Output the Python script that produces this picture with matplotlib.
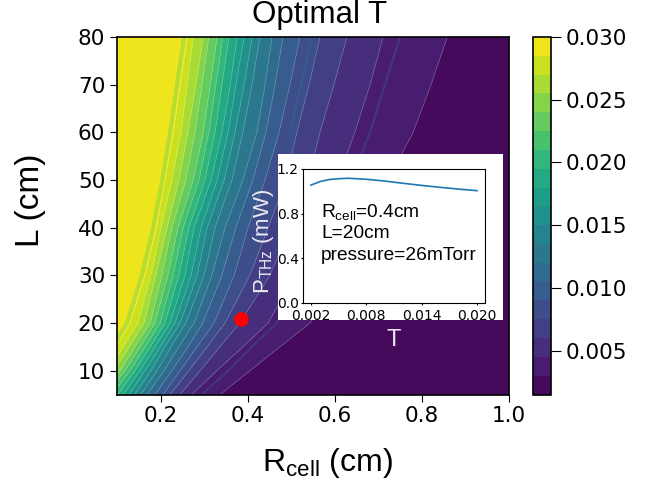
import numpy as np
import matplotlib
matplotlib.use('Agg')
import matplotlib.pyplot as plt
from matplotlib.patches import Rectangle

W, H = 659, 486

L_rows = [80, 70, 60, 50, 40, 30, 20, 15, 10, 5]
# contour levels, highest band boundary is last
levels = [0.0015, 0.003, 0.0045, 0.006, 0.0075, 0.009, 0.0105, 0.012, 0.0135, 0.015,
          0.0165, 0.018, 0.0195, 0.021, 0.0225, 0.024, 0.0255, 0.027, 0.0285, 0.03]
# R position of levels[1:-1] for each L row
R_L80 = [0.858, 0.711, 0.628, 0.566, 0.520, 0.481, 0.456, 0.428, 0.410, 0.392, 0.376, 0.357, 0.343, 0.330, 0.311, 0.298, 0.275, 0.261]
R_L70 = [0.821, 0.681, 0.598, 0.541, 0.497, 0.463, 0.440, 0.410, 0.392, 0.373, 0.360, 0.341, 0.327, 0.314, 0.295, 0.281, 0.261, 0.245]
R_L60 = [0.780, 0.646, 0.566, 0.513, 0.472, 0.442, 0.421, 0.389, 0.371, 0.355, 0.341, 0.325, 0.311, 0.298, 0.279, 0.263, 0.247, 0.229]
R_L50 = [0.722, 0.607, 0.539, 0.488, 0.440, 0.412, 0.389, 0.364, 0.346, 0.330, 0.316, 0.302, 0.288, 0.275, 0.258, 0.242, 0.226, 0.210]
R_L40 = [0.658, 0.561, 0.497, 0.447, 0.401, 0.373, 0.348, 0.325, 0.307, 0.293, 0.277, 0.265, 0.252, 0.240, 0.226, 0.215, 0.201, 0.190]
R_L30 = [0.605, 0.509, 0.451, 0.405, 0.369, 0.341, 0.318, 0.300, 0.284, 0.270, 0.256, 0.242, 0.229, 0.217, 0.203, 0.189, 0.178, 0.164]
R_L20 = [0.543, 0.447, 0.382, 0.348, 0.323, 0.297, 0.277, 0.258, 0.245, 0.233, 0.222, 0.210, 0.199, 0.187, 0.176, 0.162, 0.148, 0.130]
R_L15 = [0.474, 0.389, 0.336, 0.307, 0.284, 0.263, 0.242, 0.224, 0.210, 0.199, 0.187, 0.176, 0.164, 0.153, 0.141, 0.128, 0.114, 0.096]
R_L10 = [0.405, 0.329, 0.291, 0.265, 0.245, 0.226, 0.208, 0.192, 0.178, 0.164, 0.153, 0.141, 0.130, 0.118, 0.107, 0.093, 0.079, 0.061]
R_L5 = [0.337, 0.272, 0.245, 0.222, 0.206, 0.187, 0.169, 0.155, 0.141, 0.128, 0.114, 0.102, 0.089, 0.075, 0.061, 0.047, 0.034, 0.020]

# thin off-colour stripes in the filled contours
stripe_purple = [0.750, 0.715, 0.681, 0.637, 0.589, 0.532, 0.467, 0.410, 0.355, 0.295]
stripe_green = [0.254, 0.238, 0.222, 0.204, 0.183, 0.157, 0.123, 0.090, 0.054, 0.014]
stripe_blue = [0.548, 0.522, 0.497]

# inset curve
T_inset = [0.002, 0.003, 0.004, 0.005, 0.006, 0.008, 0.010, 0.012, 0.014, 0.016, 0.018, 0.020]
P_inset = [1.056, 1.088, 1.106, 1.113, 1.117, 1.108, 1.092, 1.072, 1.053, 1.036, 1.020, 1.006]

R_opt, L_opt = 0.385, 20.9


def box(x0, y0, x1, y1):
    return [x0 / W, 1 - y1 / H, (x1 - x0) / W, (y1 - y0) / H]


fig = plt.figure(figsize=(W / 100, H / 100), dpi=100)
ax = fig.add_axes(box(117, 37, 509, 394.5))
cax = fig.add_axes(box(533, 37, 551, 394.5))

rows = np.array([R_L80, R_L70, R_L60, R_L50, R_L40, R_L30, R_L20, R_L15, R_L10, R_L5])
n = rows.shape[0]
# close the field on both sides of the axes
X = np.column_stack([np.full(n, 1.1), rows, np.full(n, -0.1)])
Y = np.repeat(np.array(L_rows)[:, None], X.shape[1], axis=1)
z_col = [0.0016] + levels[1:-1] + [0.0299]
Z = np.repeat(np.array(z_col)[None, :], n, axis=0)

cf = ax.contourf(X, Y, Z, levels=levels, cmap='viridis')
ax.contour(X, Y, Z, levels=levels[1:-1], colors='white', linewidths=0.4, alpha=0.35)
ax.plot(stripe_purple, L_rows, color='#433e85', lw=1.6, alpha=0.7)
ax.plot(stripe_green, L_rows, color='#a8db34', lw=3, alpha=0.8)
ax.plot(stripe_blue, L_rows[:3], color='#33638d', lw=1.8, alpha=0.6)
ax.plot([R_opt], [L_opt], 'o', color='red', ms=9.5)
ax.set_xlim(0.1, 1.0)
ax.set_ylim(5, 80)
ax.set_xticks([0.2, 0.4, 0.6, 0.8, 1.0])
ax.set_yticks([10, 20, 30, 40, 50, 60, 70, 80])
ax.tick_params(labelsize=15.5, length=5)
for s in ax.spines.values():
    s.set_linewidth(1.2)

cb = fig.colorbar(cf, cax=cax)
cb.set_ticks([0.005, 0.010, 0.015, 0.020, 0.025, 0.030])
cb.set_ticklabels(['0.005', '0.010', '0.015', '0.020', '0.025', '0.030'])
cb.ax.tick_params(labelsize=15.5, length=7)
cb.outline.set_linewidth(1.2)

arial = 'Liberation Sans'
fig.text(319.5 / W, 1 - 15 / H, 'Optimal T', family=arial, fontsize=22.5, ha='center', va='center')
fig.text(31 / W, 1 - 200 / H, 'L (cm)', family=arial, fontsize=24, rotation=90, ha='center', va='center')
plt.rcParams['mathtext.fontset'] = 'custom'
plt.rcParams['mathtext.rm'] = arial
plt.rcParams['mathtext.default'] = 'regular'
fig.text(327 / W, 1 - 463 / H, r'R$_{cell}$ (cm)', family=arial, fontsize=23, ha='center', va='center')

# white panel behind the inset
fig.add_artist(Rectangle((278 / W, 1 - 320 / H), 225 / W, 166 / H, transform=fig.transFigure,
                         facecolor='white', edgecolor='none', zorder=5))
ins = fig.add_axes(box(303, 169, 485, 303), zorder=6)
ins.plot(T_inset, P_inset, color='#1f77b4', lw=1.2)
ins.set_xlim(0.00113, 0.02087)
ins.set_ylim(0, 1.2)
ins.set_xticks([0.002, 0.008, 0.014, 0.020])
ins.set_xticklabels(['0.002', '0.008', '0.014', '0.020'])
ins.set_yticks([0, 0.4, 0.8, 1.2])
ins.set_yticklabels(['0.0', '0.4', '0.8', '1.2'])
ins.tick_params(labelsize=10, length=1.5, pad=1.5)
ins.tick_params(axis='x', pad=3)

for txt, ypx in [(r'R$_{cell}$=0.4cm', 212), ('L=20cm', 233), ('pressure=26mTorr', 255)]:
    fig.text(321 / W, 1 - ypx / H, txt, family=arial, fontsize=13.8, va='center', zorder=7)

fig.text(263 / W, 1 - 241 / H, r'P$_{THz}$ (mW)', family=arial, fontsize=16, color='#ece8f2',
         rotation=90, ha='center', va='center', zorder=7)
fig.text(394 / W, 1 - 340 / H, 'T', family=arial, fontsize=17, color='#ece8f2',
         ha='center', va='center', zorder=7)

fig.savefig('out.png', dpi=100)
